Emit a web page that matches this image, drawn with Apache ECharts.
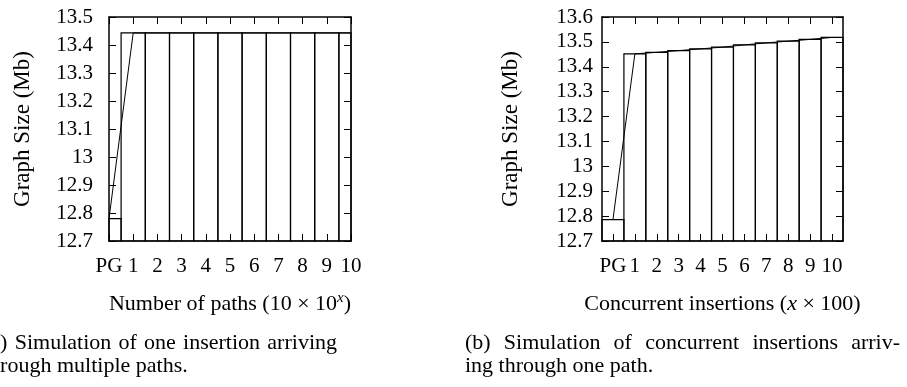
<!DOCTYPE html>
<html><head><meta charset="utf-8">
<script src="https://cdn.jsdelivr.net/npm/echarts@6/dist/echarts.min.js"></script>
<style>html,body{margin:0;padding:0;background:#fff}#c{width:907px;height:387px}</style>
</head><body><div id="c"></div>
<script>
// ---- data ----
const categories = ['PG', '1', '2', '3', '4', '5', '6', '7', '8', '9', '10'];
const xPositions = [0, 1, 2, 3, 4, 5, 6, 7, 8, 9, 10];
const sizeA = [12.78, 13.443, 13.443, 13.443, 13.443, 13.443, 13.443, 13.443, 13.443, 13.443, 13.443];
const sizeB = [12.786, 13.452, 13.458, 13.465, 13.472, 13.479, 13.488, 13.496, 13.503, 13.510, 13.518];
const yRangeA = [12.7, 13.5];
const yRangeB = [12.7, 13.6];
const yLabel = 'Graph Size (Mb)';
const captionA = ['(a) Simulation of one insertion arriving', 'through multiple paths.'];
const captionB = ['(b) Simulation of concurrent insertions arriv-', 'ing through one path.'];

// ---- chart ----
const FONT = '"Liberation Serif", "Times New Roman", serif';
const FS = 21;
const NFS = 22;
const chart = echarts.init(document.getElementById('c'), null, {renderer: 'canvas'});

function pairs(vals) { return xPositions.map((x, i) => [x, vals[i]]); }
function yFmt(v) { return String(Math.round(v * 10) / 10); }

function boxRenderer(yMin) {
  return function (params, api) {
    const x = api.value(0), y = api.value(1);
    const p1 = api.coord([x - 0.5, y]);
    const p2 = api.coord([x + 0.5, yMin]);
    const cs = params.coordSys;
    const r = echarts.graphic.clipRectByRect(
      {x: p1[0], y: p1[1], width: p2[0] - p1[0], height: p2[1] - p1[1]},
      {x: cs.x, y: cs.y, width: cs.width, height: cs.height});
    if (!r) return;
    return {type: 'rect', shape: r, style: {fill: 'none', stroke: '#000', lineWidth: 1.2}};
  };
}

const axisLineStyle = {show: true, onZero: false, lineStyle: {color: '#000', width: 1.5}};
const tickStyle = {show: true, inside: true, length: 7, lineStyle: {color: '#000', width: 1}};
const labelStyle = {color: '#000', fontFamily: FONT, fontSize: FS};

function xAxes(grid, min, max, nameRich) {
  return [
    {type: 'value', gridIndex: grid, position: 'bottom', min: min, max: max,
     axisLine: axisLineStyle, splitLine: {show: false},
     axisTick: Object.assign({customValues: xPositions}, tickStyle),
     axisLabel: Object.assign({customValues: xPositions, margin: 15, formatter: v => categories[Math.round(v)]}, labelStyle),
     name: nameRich, nameLocation: 'middle', nameGap: 50,
     nameTextStyle: {color: '#000', fontFamily: FONT, fontSize: NFS,
       rich: {n: {fontFamily: FONT, fontSize: NFS, color: '#000', lineHeight: 26, verticalAlign: 'middle'},
              i: {fontFamily: FONT, fontSize: NFS, fontStyle: 'italic', color: '#000', lineHeight: 26, verticalAlign: 'middle'},
              s: {fontFamily: FONT, fontSize: 15, fontStyle: 'italic', color: '#000', lineHeight: 14, verticalAlign: 'top'}}}},
    {type: 'value', gridIndex: grid, position: 'top', min: min, max: max,
     axisLine: axisLineStyle, splitLine: {show: false},
     axisTick: Object.assign({customValues: xPositions}, tickStyle),
     axisLabel: {show: false}}
  ];
}
function yAxes(grid, range, labelMargin, nameGap) {
  return [
    {type: 'value', gridIndex: grid, position: 'left', min: range[0], max: range[1], interval: 0.1,
     axisLine: axisLineStyle, splitLine: {show: false}, axisTick: tickStyle,
     axisLabel: Object.assign({margin: labelMargin, formatter: yFmt}, labelStyle),
     name: yLabel, nameLocation: 'middle', nameRotate: 90, nameGap: nameGap,
     nameTextStyle: {color: '#000', fontFamily: FONT, fontSize: 23}},
    {type: 'value', gridIndex: grid, position: 'right', min: range[0], max: range[1], interval: 0.1,
     axisLine: axisLineStyle, splitLine: {show: false}, axisTick: tickStyle,
     axisLabel: {show: false}}
  ];
}

// justified caption words
const measureCtx = document.createElement('canvas').getContext('2d');
measureCtx.font = NFS + 'px ' + FONT;
function captionLine(text, x0, x1, y, justify) {
  const words = text.split(' ');
  const widths = words.map(w => measureCtx.measureText(w).width);
  const total = widths.reduce((a, b) => a + b, 0);
  const space = measureCtx.measureText(' ').width;
  const gap = justify ? (x1 - x0 - total) / (words.length - 1) : space;
  const out = [];
  let x = x0;
  words.forEach((w, i) => {
    out.push({type: 'text', x: x, y: y, silent: true,
      style: {text: w, fill: '#000', font: NFS + 'px ' + FONT, textAlign: 'left', verticalAlign: 'middle', textVerticalAlign: 'middle'}});
    x += widths[i] + gap;
  });
  return out;
}

const graphics = [].concat(
  captionLine(captionA[0], -17, 337, 343, true),
  captionLine(captionA[1], -17, 0, 366, false),
  captionLine(captionB[0], 465, 900, 343, true),
  captionLine(captionB[1], 465, 0, 366, false)
);

const option = {
  backgroundColor: '#fff',
  animation: false,
  grid: [
    {left: 109, top: 17, width: 242, height: 224},
    {left: 602, top: 17, width: 241, height: 224}
  ],
  xAxis: [].concat(
    xAxes(0, 0, 10, '{n|Number of paths (10 × 10}{s|x}{n|)}'),
    xAxes(1, -0.5, 10.5, '{n|Concurrent insertions (}{i|x}{n| × 100)}')
  ),
  yAxis: [].concat(
    yAxes(0, yRangeA, 16, 75),
    yAxes(1, yRangeB, 9, 80)
  ),
  series: [
    {type: 'custom', xAxisIndex: 0, yAxisIndex: 0, data: pairs(sizeA), renderItem: boxRenderer(yRangeA[0]), z: 2},
    {type: 'line', xAxisIndex: 0, yAxisIndex: 0, data: pairs(sizeA), symbol: 'none',
     lineStyle: {color: '#000', width: 1}, clip: true, z: 3},
    {type: 'custom', xAxisIndex: 2, yAxisIndex: 2, data: pairs(sizeB), renderItem: boxRenderer(yRangeB[0]), z: 2},
    {type: 'line', xAxisIndex: 2, yAxisIndex: 2, data: pairs(sizeB), symbol: 'none',
     lineStyle: {color: '#000', width: 1}, clip: true, z: 3}
  ],
  graphic: graphics
};
chart.setOption(option);
</script>
</body></html>
